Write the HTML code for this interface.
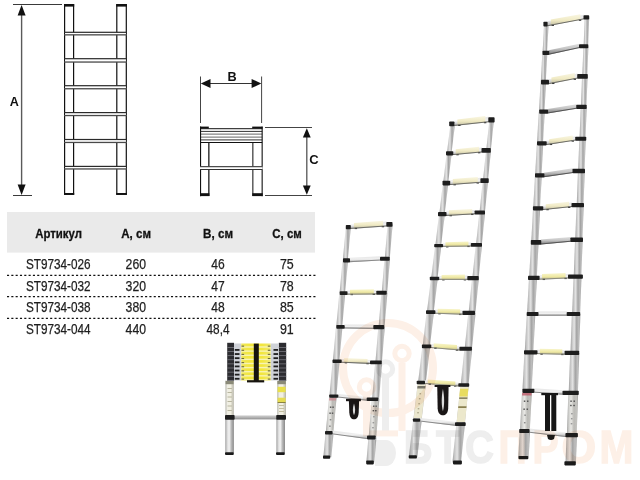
<!DOCTYPE html>
<html><head><meta charset="utf-8"><style>
html,body{margin:0;padding:0;background:#fff;width:640px;height:480px;overflow:hidden}
svg{display:block}
text{font-family:"Liberation Sans",sans-serif}
</style></head><body>
<svg width="640" height="480" viewBox="0 0 640 480">
<defs>
<linearGradient id="tube" x1="0" y1="0" x2="1" y2="0">
<stop offset="0" stop-color="#9c9c9c"/><stop offset="0.16" stop-color="#c4c4c4"/>
<stop offset="0.38" stop-color="#e4e4e4"/><stop offset="0.62" stop-color="#a4a4a4"/>
<stop offset="0.85" stop-color="#c0c0c0"/><stop offset="1" stop-color="#9a9a9a"/>
</linearGradient>
<linearGradient id="rsil" x1="0" y1="0" x2="0" y2="1">
<stop offset="0" stop-color="#dedede"/><stop offset="0.45" stop-color="#c4c4c4"/><stop offset="1" stop-color="#777"/>
</linearGradient>
<linearGradient id="rcream" x1="0" y1="0" x2="0" y2="1">
<stop offset="0" stop-color="#f9f6e2"/><stop offset="0.55" stop-color="#f0eac4"/><stop offset="1" stop-color="#c4c0a4"/>
</linearGradient>
<linearGradient id="ryel" x1="0" y1="0" x2="0" y2="1">
<stop offset="0" stop-color="#f8f5cc"/><stop offset="0.55" stop-color="#efe9a4"/><stop offset="1" stop-color="#c2bd8c"/>
</linearGradient>
<linearGradient id="fyel" x1="0" y1="0" x2="1" y2="0">
<stop offset="0" stop-color="#efe65a"/><stop offset="0.3" stop-color="#f2e63c"/><stop offset="0.7" stop-color="#f2e63c"/><stop offset="1" stop-color="#efe870"/>
</linearGradient>
<linearGradient id="leg" x1="0" y1="0" x2="1" y2="0">
<stop offset="0" stop-color="#9a9a9a"/><stop offset="0.2" stop-color="#d8d8d8"/>
<stop offset="0.45" stop-color="#f4f4f4"/><stop offset="0.7" stop-color="#b8b8b8"/><stop offset="1" stop-color="#8a8a8a"/>
</linearGradient>
<linearGradient id="lab" x1="0" y1="0" x2="1" y2="0">
<stop offset="0" stop-color="#b8b8b0"/><stop offset="0.25" stop-color="#efeee4"/>
<stop offset="0.6" stop-color="#f2f0e2"/><stop offset="1" stop-color="#b4b2a6"/>
</linearGradient>
<linearGradient id="fsil" x1="0" y1="0" x2="0" y2="1">
<stop offset="0" stop-color="#d0d0d0"/><stop offset="0.5" stop-color="#b4b4b4"/><stop offset="1" stop-color="#8e8e8e"/>
</linearGradient>
<linearGradient id="rwh" x1="0" y1="0" x2="0" y2="1">
<stop offset="0" stop-color="#e6e6e6"/><stop offset="0.5" stop-color="#f0f0f0"/><stop offset="1" stop-color="#a8a8a8"/>
</linearGradient>
</defs>
<polygon points="345.83,227.1 350.83,227.1 347.79,260.4 342.79,260.4" fill="url(#tube)"/>
<polygon points="387.62,224.35 392.62,224.35 389.76,258.75 384.76,258.75" fill="url(#tube)"/>
<polygon points="342.54,260.4 348.04,260.4 345.05,293.15 339.55,293.15" fill="url(#tube)"/>
<polygon points="384.51,258.75 390.01,258.75 387.18,292.75 381.68,292.75" fill="url(#tube)"/>
<polygon points="339.3,293.15 345.3,293.15 342.23,326.85 336.23,326.85" fill="url(#tube)"/>
<polygon points="381.43,292.75 387.43,292.75 384.58,327.1 378.58,327.1" fill="url(#tube)"/>
<polygon points="335.98,326.85 342.48,326.85 339.33,361.3 332.83,361.3" fill="url(#tube)"/>
<polygon points="378.33,327.1 384.83,327.1 381.89,362.4 375.39,362.4" fill="url(#tube)"/>
<polygon points="332.58,361.3 339.58,361.3 336.4,396.15 329.4,396.15" fill="url(#tube)"/>
<polygon points="375.14,362.4 382.14,362.4 379.08,399.3 372.08,399.3" fill="url(#tube)"/>
<polygon points="329.1,396.15 336.7,396.15 333.35,432.8 325.75,432.8" fill="url(#tube)"/>
<polygon points="371.78,399.3 379.38,399.3 376.21,437.4 368.61,437.4" fill="url(#tube)"/>
<polygon points="325.55,432.8 333.55,432.8 331.33,457.2 323.33,457.2" fill="url(#tube)"/>
<polygon points="368.41,437.4 376.41,437.4 374.33,462.5 366.33,462.5" fill="url(#tube)"/>
<polygon points="329.03,398 336.43,398 333.42,431 326.02,431" fill="url(#lab)" opacity="0.3"/>
<polygon points="371.69,401.5 379.09,401.5 376.27,435.5 368.87,435.5" fill="url(#lab)" opacity="0.3"/>
<polygon points="329.23,398 336.23,398 336,400.5 329,400.5" fill="#c98890" opacity="0.8"/>
<rect x="329.88" y="406.5" width="1.5" height="1.4" fill="#555"/>
<rect x="332.33" y="406.5" width="1.5" height="1.4" fill="#555"/>
<rect x="329.34" y="412.5" width="1.5" height="1.4" fill="#555"/>
<rect x="331.78" y="412.5" width="1.5" height="1.4" fill="#555"/>
<rect x="329.7" y="419" width="1.6" height="1.4" fill="#8a8a8a"/>
<rect x="329.11" y="425.5" width="1.6" height="1.4" fill="#8a8a8a"/>
<rect x="372.99" y="405.5" width="1.5" height="1.4" fill="#555"/>
<rect x="375.43" y="405.5" width="1.5" height="1.4" fill="#555"/>
<rect x="372.62" y="410" width="1.5" height="1.4" fill="#555"/>
<rect x="375.06" y="410" width="1.5" height="1.4" fill="#555"/>
<rect x="373.08" y="416" width="1.6" height="1.4" fill="#999"/>
<rect x="372.58" y="422" width="1.6" height="1.4" fill="#999"/>
<rect x="372.17" y="427" width="1.6" height="1.4" fill="#999"/>
<polygon points="350.3,224.5 386.8,221.5 386.8,226.4 350.3,228.9" fill="url(#rwh)"/>
<polygon points="353.95,223.1 383.15,220.7 383.15,226.35 353.95,228.35" fill="url(#rcream)"/>
<rect x="354.68" y="227.8" width="2.4" height="1.3" fill="#2a2a2a"/>
<rect x="381.69" y="225.95" width="2.4" height="1.3" fill="#2a2a2a"/>
<line x1="350.3" y1="228.4" x2="386.8" y2="225.9" stroke="#6e6e68" stroke-width="1"/>
<rect x="345.8" y="225" width="5" height="4.2" rx="0.8" fill="#1e1e1e"/>
<rect x="386.3" y="222" width="6.2" height="4.7" rx="0.8" fill="#1e1e1e"/>
<polygon points="349.5,257.8 380.5,256.2 380.5,260.5 349.5,262.2" fill="url(#rwh)"/>
<line x1="349.5" y1="261.7" x2="380.5" y2="260" stroke="#8a8a8a" stroke-width="1"/>
<rect x="343" y="258.3" width="7" height="4.2" rx="0.8" fill="#1e1e1e"/>
<rect x="380" y="256.7" width="9.7" height="4.1" rx="0.8" fill="#1e1e1e"/>
<polygon points="347,290.8 376.8,290.3 376.8,294.4 347,294.7" fill="url(#rwh)"/>
<polygon points="349.98,289.65 373.82,289.25 373.82,294.13 349.98,294.37" fill="url(#ryel)"/>
<rect x="350.58" y="293.86" width="2.4" height="1.3" fill="#2a2a2a"/>
<rect x="372.63" y="293.64" width="2.4" height="1.3" fill="#2a2a2a"/>
<line x1="347" y1="294.2" x2="376.8" y2="293.9" stroke="#8e8e80" stroke-width="1"/>
<rect x="339.7" y="291.3" width="7.8" height="3.7" rx="0.8" fill="#1e1e1e"/>
<rect x="376.3" y="290.8" width="10.4" height="3.9" rx="0.8" fill="#1e1e1e"/>
<polygon points="344.2,324.5 373.8,324.5 373.8,328.9 344.2,328.4" fill="url(#rwh)"/>
<line x1="344.2" y1="327.9" x2="373.8" y2="328.4" stroke="#8a8a8a" stroke-width="1"/>
<rect x="336.3" y="325" width="8.4" height="3.7" rx="0.8" fill="#1e1e1e"/>
<rect x="373.3" y="325" width="10.9" height="4.2" rx="0.8" fill="#1e1e1e"/>
<polygon points="341.2,359.1 370.5,360.1 370.5,363.9 341.2,362.7" fill="url(#rwh)"/>
<polygon points="344.13,358.1 367.57,358.9 367.57,363.48 344.13,362.52" fill="url(#rcream)"/>
<rect x="344.72" y="362.04" width="2.4" height="1.3" fill="#2a2a2a"/>
<rect x="366.4" y="362.93" width="2.4" height="1.3" fill="#2a2a2a"/>
<line x1="341.2" y1="362.2" x2="370.5" y2="363.4" stroke="#6e6e68" stroke-width="1"/>
<rect x="332.5" y="359.6" width="9.2" height="3.4" rx="0.8" fill="#1e1e1e"/>
<rect x="370" y="360.6" width="11.7" height="3.6" rx="0.8" fill="#1e1e1e"/>
<polygon points="337.8,394 367.2,397.1 367.2,400.7 337.8,397.5" fill="url(#rwh)"/>
<line x1="337.8" y1="397" x2="367.2" y2="400.2" stroke="#8a8a8a" stroke-width="1"/>
<rect x="329.2" y="394.5" width="9.1" height="3.3" rx="0.8" fill="#1e1e1e"/>
<rect x="366.7" y="397.6" width="11.6" height="3.4" rx="0.8" fill="#1e1e1e"/>
<polygon points="332.1,430.5 367.5,434.9 367.5,439.1 332.1,434.3" fill="url(#rwh)"/>
<line x1="332.1" y1="433.8" x2="367.5" y2="438.6" stroke="#8a8a8a" stroke-width="1"/>
<rect x="325" y="431" width="7.6" height="3.6" rx="0.8" fill="#1e1e1e"/>
<rect x="367" y="435.4" width="8.6" height="4" rx="0.8" fill="#1e1e1e"/>
<rect x="323" y="455.6" width="7.2" height="3.2" rx="0.8" fill="#1a1a1a"/>
<rect x="366.2" y="460.6" width="7.6" height="3.8" rx="0.8" fill="#1a1a1a"/>
<path d="M348.9 401 L349.3 412.2 C349.7 417.7 351.5 419.2 354 419.2 C356.5 419.2 358.3 417.7 358.7 412.2 L359.1 401 Z" fill="#1a1616"/>
<path d="M354 403.5 C352.5 407.59 352.5 412.27 354 415.2 C355.5 412.27 355.5 407.59 354 403.5 Z" fill="#fff" opacity="0.85"/>
<rect x="346" y="398.8" width="14.9" height="2.4" fill="#1a1616"/>
<polygon points="450.42,123.88 455.02,123.88 451.51,153.32 446.91,153.32" fill="url(#tube)"/>
<polygon points="489.35,119.9 493.95,119.9 490.84,150.35 486.24,150.35" fill="url(#tube)"/>
<polygon points="446.71,153.32 451.71,153.32 448.17,183.1 443.17,183.1" fill="url(#tube)"/>
<polygon points="486.04,150.35 491.04,150.35 487.95,180.65 482.95,180.65" fill="url(#tube)"/>
<polygon points="442.97,183.1 448.37,183.1 444.68,214.12 439.28,214.12" fill="url(#tube)"/>
<polygon points="482.75,180.65 488.15,180.65 484.91,212.5 479.51,212.5" fill="url(#tube)"/>
<polygon points="439.08,214.12 444.88,214.12 441.13,245.62 435.33,245.62" fill="url(#tube)"/>
<polygon points="479.31,212.5 485.11,212.5 481.8,244.9 476,244.9" fill="url(#tube)"/>
<polygon points="435.08,245.62 441.38,245.62 437.47,278.45 431.17,278.45" fill="url(#tube)"/>
<polygon points="475.75,244.9 482.05,244.9 478.66,278.1 472.36,278.1" fill="url(#tube)"/>
<polygon points="430.92,278.45 437.72,278.45 433.72,312.1 426.92,312.1" fill="url(#tube)"/>
<polygon points="472.11,278.1 478.91,278.1 475.36,312.9 468.56,312.9" fill="url(#tube)"/>
<polygon points="426.67,312.1 433.97,312.1 429.88,346.45 422.58,346.45" fill="url(#tube)"/>
<polygon points="468.31,312.9 475.61,312.9 471.96,348.75 464.66,348.75" fill="url(#tube)"/>
<polygon points="422.33,346.45 430.13,346.45 425.84,382.5 418.04,382.5" fill="url(#tube)"/>
<polygon points="464.41,348.75 472.21,348.75 468.51,385 460.71,385" fill="url(#tube)"/>
<polygon points="417.84,382.5 426.04,382.5 421.57,420.1 413.37,420.1" fill="url(#tube)"/>
<polygon points="460.51,385 468.71,385 464.72,424.15 456.52,424.15" fill="url(#tube)"/>
<polygon points="413.17,420.1 421.77,420.1 417.39,456.88 408.79,456.88" fill="url(#tube)"/>
<polygon points="456.32,424.15 464.92,424.15 461.01,462.5 452.41,462.5" fill="url(#tube)"/>
<polygon points="417.7,384.5 425.7,384.5 421.72,418 413.72,418" fill="#ebe7cf"/>
<polygon points="460.21,387 468.61,387 465.04,422 456.64,422" fill="#ece8cc"/>
<polygon points="460.12,388.8 468.32,388.8 467.53,396.6 459.33,396.6" fill="#e8dc60"/>
<polygon points="459.24,397.5 467.44,397.5 467.3,398.8 459.1,398.8" fill="#6a6440"/>
<polygon points="458.34,406.3 466.54,406.3 466.36,408 458.16,408" fill="#8a8050"/>
<polygon points="417.53,386 425.53,386 425.23,388.5 417.23,388.5" fill="#77756a"/>
<rect x="419.49" y="393" width="1.6" height="1.4" fill="#b0ab90"/>
<rect x="418.9" y="398" width="1.6" height="1.4" fill="#b0ab90"/>
<rect x="418.3" y="403" width="1.6" height="1.4" fill="#b0ab90"/>
<rect x="417.71" y="408" width="1.6" height="1.4" fill="#b0ab90"/>
<rect x="417.23" y="412" width="1.6" height="1.4" fill="#b0ab90"/>
<polygon points="453.9,121 488.8,116.8 488.8,122.2 453.9,125.95" fill="url(#rwh)"/>
<polygon points="457.39,119.48 485.31,116.12 485.31,122.28 457.39,125.28" fill="url(#rcream)"/>
<rect x="458.09" y="124.7" width="2.4" height="1.3" fill="#2a2a2a"/>
<rect x="483.91" y="121.93" width="2.4" height="1.3" fill="#2a2a2a"/>
<line x1="453.9" y1="125.45" x2="488.8" y2="121.7" stroke="#6e6e68" stroke-width="1"/>
<rect x="449.2" y="121.5" width="5.2" height="4.75" rx="0.8" fill="#1e1e1e"/>
<rect x="488.3" y="117.3" width="6.3" height="5.2" rx="0.8" fill="#1e1e1e"/>
<polygon points="452.8,150.75 482,147.5 482,152.4 452.8,155.1" fill="url(#rwh)"/>
<polygon points="455.72,149.33 479.08,146.72 479.08,152.37 455.72,154.53" fill="url(#rcream)"/>
<rect x="456.3" y="153.98" width="2.4" height="1.3" fill="#2a2a2a"/>
<rect x="477.91" y="151.98" width="2.4" height="1.3" fill="#2a2a2a"/>
<line x1="452.8" y1="154.6" x2="482" y2="151.9" stroke="#6e6e68" stroke-width="1"/>
<rect x="446" y="151.25" width="7.3" height="4.15" rx="0.8" fill="#1e1e1e"/>
<rect x="481.5" y="148" width="9.3" height="4.7" rx="0.8" fill="#1e1e1e"/>
<polygon points="449.7,180.3 480.9,177.8 480.9,182.7 449.7,185.1" fill="url(#rwh)"/>
<polygon points="452.82,178.95 477.78,176.95 477.78,182.64 452.82,184.56" fill="url(#rcream)"/>
<rect x="453.44" y="184.01" width="2.4" height="1.3" fill="#2a2a2a"/>
<rect x="476.53" y="182.24" width="2.4" height="1.3" fill="#2a2a2a"/>
<line x1="449.7" y1="184.6" x2="480.9" y2="182.2" stroke="#6e6e68" stroke-width="1"/>
<rect x="442.5" y="180.8" width="7.7" height="4.6" rx="0.8" fill="#1e1e1e"/>
<rect x="480.4" y="178.3" width="8.35" height="4.7" rx="0.8" fill="#1e1e1e"/>
<polygon points="446,211.5 475.1,209.9 475.1,214.3 446,215.95" fill="url(#rwh)"/>
<polygon points="448.91,210.24 472.19,208.96 472.19,214.16 448.91,215.49" fill="url(#rcream)"/>
<rect x="449.49" y="214.95" width="2.4" height="1.3" fill="#2a2a2a"/>
<rect x="471.03" y="213.73" width="2.4" height="1.3" fill="#2a2a2a"/>
<line x1="446" y1="215.45" x2="475.1" y2="213.8" stroke="#6e6e68" stroke-width="1"/>
<rect x="438" y="212" width="8.5" height="4.25" rx="0.8" fill="#1e1e1e"/>
<rect x="474.6" y="210.4" width="10.4" height="4.2" rx="0.8" fill="#1e1e1e"/>
<polygon points="442.6,243.5 471.3,242.5 471.3,246.5 442.6,246.95" fill="url(#rwh)"/>
<polygon points="445.47,242.3 468.43,241.5 468.43,246.25 445.47,246.61" fill="url(#ryel)"/>
<rect x="446.04" y="246.1" width="2.4" height="1.3" fill="#2a2a2a"/>
<rect x="467.28" y="245.76" width="2.4" height="1.3" fill="#2a2a2a"/>
<line x1="442.6" y1="246.45" x2="471.3" y2="246" stroke="#8e8e80" stroke-width="1"/>
<rect x="434.2" y="244" width="8.9" height="3.25" rx="0.8" fill="#1e1e1e"/>
<rect x="470.8" y="243" width="11.2" height="3.8" rx="0.8" fill="#1e1e1e"/>
<polygon points="438.7,276.2 467.8,275.5 467.8,279.9 438.7,279.9" fill="url(#rwh)"/>
<polygon points="441.61,275.03 464.89,274.47 464.89,279.6 441.61,279.6" fill="url(#ryel)"/>
<rect x="442.19" y="279.1" width="2.4" height="1.3" fill="#2a2a2a"/>
<rect x="463.73" y="279.1" width="2.4" height="1.3" fill="#2a2a2a"/>
<line x1="438.7" y1="279.4" x2="467.8" y2="279.4" stroke="#8e8e80" stroke-width="1"/>
<rect x="429.8" y="276.7" width="9.4" height="3.5" rx="0.8" fill="#1e1e1e"/>
<rect x="467.3" y="276" width="11.45" height="4.2" rx="0.8" fill="#1e1e1e"/>
<polygon points="434.9,309.7 463,310.3 463,314.7 434.9,313.7" fill="url(#rwh)"/>
<polygon points="437.71,308.66 460.19,309.14 460.19,314.3 437.71,313.5" fill="url(#ryel)"/>
<rect x="438.27" y="313.02" width="2.4" height="1.3" fill="#2a2a2a"/>
<rect x="459.07" y="313.76" width="2.4" height="1.3" fill="#2a2a2a"/>
<line x1="434.9" y1="313.2" x2="463" y2="314.2" stroke="#8e8e80" stroke-width="1"/>
<rect x="426" y="310.2" width="9.4" height="3.8" rx="0.8" fill="#1e1e1e"/>
<rect x="462.5" y="310.8" width="12.5" height="4.2" rx="0.8" fill="#1e1e1e"/>
<polygon points="430.75,344.1 459.9,346.2 459.9,350.5 430.75,348" fill="url(#rwh)"/>
<polygon points="433.67,343.21 456.98,344.89 456.98,349.95 433.67,347.95" fill="url(#ryel)"/>
<rect x="434.25" y="347.5" width="2.4" height="1.3" fill="#2a2a2a"/>
<rect x="455.82" y="349.35" width="2.4" height="1.3" fill="#2a2a2a"/>
<line x1="430.75" y1="347.5" x2="459.9" y2="350" stroke="#8e8e80" stroke-width="1"/>
<rect x="421.9" y="344.6" width="9.35" height="3.7" rx="0.8" fill="#1e1e1e"/>
<rect x="459.4" y="346.7" width="12.5" height="4.1" rx="0.8" fill="#1e1e1e"/>
<polygon points="424.5,380.3 458.8,382.8 458.8,386.4 424.5,383.9" fill="url(#rwh)"/>
<polygon points="427.93,379.45 455.37,381.45 455.37,385.85 427.93,383.85" fill="url(#ryel)"/>
<rect x="428.62" y="383.4" width="2.4" height="1.3" fill="#2a2a2a"/>
<rect x="454" y="385.25" width="2.4" height="1.3" fill="#2a2a2a"/>
<line x1="424.5" y1="383.4" x2="458.8" y2="385.9" stroke="#8e8e80" stroke-width="1"/>
<rect x="416.7" y="380.8" width="8.3" height="3.4" rx="0.8" fill="#1e1e1e"/>
<rect x="458.3" y="383.3" width="10.9" height="3.4" rx="0.8" fill="#1e1e1e"/>
<polygon points="419.7,417.9 455.5,421.7 455.5,425.8 419.7,421.5" fill="url(#rwh)"/>
<line x1="419.7" y1="421" x2="455.5" y2="425.3" stroke="#8a8a8a" stroke-width="1"/>
<rect x="412.9" y="418.4" width="7.3" height="3.4" rx="0.8" fill="#1e1e1e"/>
<rect x="455" y="422.2" width="10.7" height="3.9" rx="0.8" fill="#1e1e1e"/>
<rect x="408.75" y="455.25" width="8.15" height="3.25" rx="0.8" fill="#1a1a1a"/>
<rect x="453" y="460.6" width="8.9" height="3.8" rx="0.8" fill="#1a1a1a"/>
<path d="M437.25 386.5 L437.65 408.2 C438.05 413.7 440.43 415.2 442.93 415.2 C445.43 415.2 447.8 413.7 448.2 408.2 L448.6 386.5 Z" fill="#1a1616"/>
<path d="M442.93 389 C441.32 396.77 441.32 405.65 442.93 411.2 C444.53 405.65 444.53 396.77 442.93 389 Z" fill="#fff" opacity="0.85"/>
<rect x="434.6" y="385" width="15.8" height="2" fill="#1a1616"/>
<polygon points="544.07,24.2 548.57,24.2 547.06,52.9 542.56,52.9" fill="url(#tube)"/>
<polygon points="584.69,17.4 589.19,17.4 588.14,46.25 583.64,46.25" fill="url(#tube)"/>
<polygon points="542.31,52.9 547.31,52.9 545.77,82.15 540.77,82.15" fill="url(#tube)"/>
<polygon points="583.39,46.25 588.39,46.25 587.29,76.4 582.29,76.4" fill="url(#tube)"/>
<polygon points="540.52,82.15 546.02,82.15 544.46,111.67 538.96,111.67" fill="url(#tube)"/>
<polygon points="582.04,76.4 587.54,76.4 586.43,106.9 580.93,106.9" fill="url(#tube)"/>
<polygon points="538.71,111.67 544.71,111.67 543.04,143.32 537.04,143.32" fill="url(#tube)"/>
<polygon points="580.68,106.9 586.68,106.9 585.52,138.75 579.52,138.75" fill="url(#tube)"/>
<polygon points="536.84,143.32 543.24,143.32 541.55,175.4 535.15,175.4" fill="url(#tube)"/>
<polygon points="579.32,138.75 585.72,138.75 584.55,171.03 578.15,171.03" fill="url(#tube)"/>
<polygon points="534.95,175.4 541.75,175.4 540.02,208.32 533.22,208.32" fill="url(#tube)"/>
<polygon points="577.95,171.03 584.75,171.03 583.51,205.15 576.71,205.15" fill="url(#tube)"/>
<polygon points="533.02,208.32 540.22,208.32 538.42,242.4 531.22,242.4" fill="url(#tube)"/>
<polygon points="576.51,205.15 583.71,205.15 582.45,239.75 575.25,239.75" fill="url(#tube)"/>
<polygon points="531.02,242.4 538.62,242.4 536.75,277.9 529.15,277.9" fill="url(#tube)"/>
<polygon points="575.05,239.75 582.65,239.75 581.3,276.65 573.7,276.65" fill="url(#tube)"/>
<polygon points="528.95,277.9 536.95,277.9 535.05,313.95 527.05,313.95" fill="url(#tube)"/>
<polygon points="573.5,276.65 581.5,276.65 580.15,313.95 572.15,313.95" fill="url(#tube)"/>
<polygon points="526.75,313.95 535.35,313.95 533.33,352.3 524.73,352.3" fill="url(#tube)"/>
<polygon points="571.85,313.95 580.45,313.95 579.03,352.9 570.43,352.9" fill="url(#tube)"/>
<polygon points="524.43,352.3 533.63,352.3 531.6,390.82 522.4,390.82" fill="url(#tube)"/>
<polygon points="570.13,352.9 579.33,352.9 577.87,392.9 568.67,392.9" fill="url(#tube)"/>
<polygon points="522.1,390.82 531.9,390.82 529.78,431 519.98,431" fill="url(#tube)"/>
<polygon points="568.37,392.9 578.17,392.9 576.63,435.15 566.83,435.15" fill="url(#tube)"/>
<polygon points="519.68,431 530.08,431 528.68,457.6 518.28,457.6" fill="url(#tube)"/>
<polygon points="566.53,435.15 576.93,435.15 575.91,463.32 565.51,463.32" fill="url(#tube)"/>
<polygon points="522.11,392.5 531.71,392.5 529.79,429 520.19,429" fill="url(#lab)" opacity="0.3"/>
<polygon points="568.4,395 578,395 576.61,433 567.01,433" fill="url(#lab)" opacity="0.3"/>
<polygon points="522.19,392.8 531.59,392.8 531.46,395.4 522.06,395.4" fill="#c0606e" opacity="0.85"/>
<rect x="523.8" y="400.5" width="1.5" height="1.4" fill="#505050"/>
<rect x="526.97" y="400.5" width="1.5" height="1.4" fill="#505050"/>
<rect x="523.38" y="408.5" width="1.5" height="1.4" fill="#505050"/>
<rect x="526.55" y="408.5" width="1.5" height="1.4" fill="#505050"/>
<rect x="524.31" y="414.5" width="1.6" height="1.4" fill="#8a8a8a"/>
<rect x="523.92" y="422" width="1.6" height="1.4" fill="#8a8a8a"/>
<rect x="570.31" y="400.5" width="1.5" height="1.4" fill="#505050"/>
<rect x="573.48" y="400.5" width="1.5" height="1.4" fill="#505050"/>
<rect x="570.15" y="404.8" width="1.5" height="1.4" fill="#505050"/>
<rect x="573.32" y="404.8" width="1.5" height="1.4" fill="#505050"/>
<rect x="571.1" y="413" width="1.6" height="1.4" fill="#9a9a9a"/>
<rect x="570.92" y="418" width="1.6" height="1.4" fill="#9a9a9a"/>
<rect x="570.74" y="423" width="1.6" height="1.4" fill="#9a9a9a"/>
<polygon points="547.1,21.3 584,14.7 584,19.3 547.1,26.3" fill="url(#rwh)"/>
<polygon points="550.79,19.54 580.31,14.26 580.31,19.7 550.79,25.3" fill="url(#rcream)"/>
<rect x="551.53" y="24.66" width="2.4" height="1.3" fill="#2a2a2a"/>
<rect x="578.83" y="19.48" width="2.4" height="1.3" fill="#2a2a2a"/>
<line x1="547.1" y1="25.8" x2="584" y2="18.8" stroke="#6e6e68" stroke-width="1"/>
<rect x="543.4" y="21.8" width="4.2" height="4.8" rx="0.8" fill="#1e1e1e"/>
<rect x="583.5" y="15.2" width="5.7" height="4.4" rx="0.8" fill="#1e1e1e"/>
<polygon points="548.7,50.3 579.5,43.7 579.5,48 548.7,54.7" fill="url(#rsil)"/>
<line x1="548.7" y1="54.2" x2="579.5" y2="47.5" stroke="#555" stroke-width="1"/>
<rect x="542.5" y="50.8" width="6.7" height="4.2" rx="0.8" fill="#1e1e1e"/>
<rect x="579" y="44.2" width="9.3" height="4.1" rx="0.8" fill="#1e1e1e"/>
<polygon points="548.5,79.3 577.7,73.5 577.7,78.5 548.5,84.2" fill="url(#rwh)"/>
<polygon points="551.42,77.62 574.78,72.98 574.78,78.77 551.42,83.33" fill="url(#rcream)"/>
<rect x="552" y="82.72" width="2.4" height="1.3" fill="#2a2a2a"/>
<rect x="573.61" y="78.5" width="2.4" height="1.3" fill="#2a2a2a"/>
<line x1="548.5" y1="83.7" x2="577.7" y2="78" stroke="#6e6e68" stroke-width="1"/>
<rect x="541" y="79.8" width="8" height="4.7" rx="0.8" fill="#1e1e1e"/>
<rect x="577.2" y="74" width="10.6" height="4.8" rx="0.8" fill="#1e1e1e"/>
<polygon points="547.6,109.1 576.75,104.3 576.75,108.7 547.6,113.45" fill="url(#rsil)"/>
<line x1="547.6" y1="112.95" x2="576.75" y2="108.2" stroke="#555" stroke-width="1"/>
<rect x="539.2" y="109.6" width="8.9" height="4.15" rx="0.8" fill="#1e1e1e"/>
<rect x="576.25" y="104.8" width="10.45" height="4.2" rx="0.8" fill="#1e1e1e"/>
<polygon points="546.2,140.75 575.7,136.2 575.7,140.5 546.2,145.1" fill="url(#rwh)"/>
<polygon points="549.15,139.19 572.75,135.56 572.75,140.66 549.15,144.34" fill="url(#rcream)"/>
<rect x="549.74" y="143.75" width="2.4" height="1.3" fill="#2a2a2a"/>
<rect x="571.57" y="140.34" width="2.4" height="1.3" fill="#2a2a2a"/>
<line x1="546.2" y1="144.6" x2="575.7" y2="140" stroke="#6e6e68" stroke-width="1"/>
<rect x="537" y="141.25" width="9.7" height="4.15" rx="0.8" fill="#1e1e1e"/>
<rect x="575.2" y="136.7" width="11.05" height="4.1" rx="0.8" fill="#1e1e1e"/>
<polygon points="543.9,172.8 573,168.25 573,173 543.9,177.2" fill="url(#rsil)"/>
<line x1="543.9" y1="176.7" x2="573" y2="172.5" stroke="#555" stroke-width="1"/>
<rect x="535" y="173.3" width="9.4" height="4.2" rx="0.8" fill="#1e1e1e"/>
<rect x="572.5" y="168.75" width="12.5" height="4.55" rx="0.8" fill="#1e1e1e"/>
<polygon points="542.8,205.75 572,202.5 572,207 542.8,210.1" fill="url(#rwh)"/>
<polygon points="545.72,204.33 569.08,201.72 569.08,207.01 545.72,209.49" fill="url(#rcream)"/>
<rect x="546.3" y="208.93" width="2.4" height="1.3" fill="#2a2a2a"/>
<rect x="567.91" y="206.63" width="2.4" height="1.3" fill="#2a2a2a"/>
<line x1="542.8" y1="209.6" x2="572" y2="206.5" stroke="#6e6e68" stroke-width="1"/>
<rect x="532.9" y="206.25" width="10.4" height="4.15" rx="0.8" fill="#1e1e1e"/>
<rect x="571.5" y="203" width="12.5" height="4.3" rx="0.8" fill="#1e1e1e"/>
<polygon points="540.75,239.5 570.9,237 570.9,241.7 540.75,244.5" fill="url(#rsil)"/>
<line x1="540.75" y1="244" x2="570.9" y2="241.2" stroke="#555" stroke-width="1"/>
<rect x="530.8" y="240" width="10.45" height="4.8" rx="0.8" fill="#1e1e1e"/>
<rect x="570.4" y="237.5" width="12.6" height="4.5" rx="0.8" fill="#1e1e1e"/>
<polygon points="539.1,275.3 568.5,274.1 568.5,278.4 539.1,279.7" fill="url(#rwh)"/>
<polygon points="542.04,274.08 565.56,273.12 565.56,278.23 542.04,279.27" fill="url(#ryel)"/>
<rect x="542.63" y="278.74" width="2.4" height="1.3" fill="#2a2a2a"/>
<rect x="564.38" y="277.78" width="2.4" height="1.3" fill="#2a2a2a"/>
<line x1="539.1" y1="279.2" x2="568.5" y2="277.9" stroke="#8e8e80" stroke-width="1"/>
<rect x="528" y="275.8" width="11.6" height="4.2" rx="0.8" fill="#1e1e1e"/>
<rect x="568" y="274.6" width="14.9" height="4.1" rx="0.8" fill="#1e1e1e"/>
<polygon points="538,311.4 567.2,311.4 567.2,315.7 538,315.7" fill="url(#rwh)"/>
<line x1="538" y1="315.2" x2="567.2" y2="315.2" stroke="#8a8a8a" stroke-width="1"/>
<rect x="526.7" y="311.9" width="11.8" height="4.1" rx="0.8" fill="#1e1e1e"/>
<rect x="566.7" y="311.9" width="13.5" height="4.1" rx="0.8" fill="#1e1e1e"/>
<polygon points="537,349.7 565.1,350.3 565.1,354.7 537,354.1" fill="url(#rwh)"/>
<polygon points="539.81,348.66 562.29,349.14 562.29,354.34 539.81,353.86" fill="url(#ryel)"/>
<rect x="540.37" y="353.37" width="2.4" height="1.3" fill="#2a2a2a"/>
<rect x="561.17" y="353.82" width="2.4" height="1.3" fill="#2a2a2a"/>
<line x1="537" y1="353.6" x2="565.1" y2="354.2" stroke="#8e8e80" stroke-width="1"/>
<rect x="524" y="350.2" width="13.5" height="4.2" rx="0.8" fill="#1e1e1e"/>
<rect x="564.6" y="350.8" width="14.6" height="4.2" rx="0.8" fill="#1e1e1e"/>
<polygon points="533.9,388.25 563,390.3 563,394.7 533.9,392.6" fill="url(#rwh)"/>
<line x1="533.9" y1="392.1" x2="563" y2="394.2" stroke="#8a8a8a" stroke-width="1"/>
<rect x="522.5" y="388.75" width="11.9" height="4.15" rx="0.8" fill="#1e1e1e"/>
<rect x="562.5" y="390.8" width="16.25" height="4.2" rx="0.8" fill="#1e1e1e"/>
<polygon points="529.1,428.5 565.9,432.5 565.9,437 529.1,432.7" fill="url(#rwh)"/>
<line x1="529.1" y1="432.2" x2="565.9" y2="436.5" stroke="#8a8a8a" stroke-width="1"/>
<rect x="519.2" y="429" width="10.4" height="4" rx="0.8" fill="#1e1e1e"/>
<rect x="565.4" y="433" width="12.5" height="4.3" rx="0.8" fill="#1e1e1e"/>
<rect x="518.5" y="456" width="9.8" height="3.2" rx="0.8" fill="#1a1a1a"/>
<rect x="564.4" y="461.25" width="11.4" height="4.15" rx="0.8" fill="#1a1a1a"/>
<rect x="545" y="395" width="5" height="36" fill="#161616"/>
<rect x="551.3" y="395" width="5" height="36" fill="#161616"/>
<rect x="541.3" y="393" width="16.7" height="2.2" fill="#161616"/>
<path d="M547 435 H555 L554 439 Q551 441 548 439 Z" fill="#1a1a1a"/>
<rect x="225.4" y="380.5" width="8.4" height="35" fill="url(#lab)"/>
<rect x="277.2" y="380.5" width="8.8" height="35" fill="url(#lab)"/>
<rect x="225.6" y="381" width="8" height="3.2" fill="#8a8a78"/>
<rect x="277.4" y="381" width="8.4" height="3.2" fill="#8a8a78"/>
<rect x="227.5" y="388" width="4.4" height="1" fill="#b8b6a0"/>
<rect x="227.5" y="392" width="4.4" height="1" fill="#b8b6a0"/>
<rect x="227.5" y="396.5" width="4.4" height="1" fill="#b8b6a0"/>
<rect x="227.5" y="401" width="4.4" height="1" fill="#b8b6a0"/>
<rect x="227.5" y="405.5" width="4.4" height="1" fill="#b8b6a0"/>
<rect x="227.5" y="410" width="4.4" height="1" fill="#b8b6a0"/>
<rect x="277.6" y="386.8" width="8" height="5.4" fill="#e9e04a"/>
<rect x="277.6" y="397.7" width="8" height="4.3" fill="#e6dc52"/>
<rect x="277.6" y="402" width="8" height="1" fill="#8a8240"/>
<rect x="279" y="405" width="5" height="1" fill="#c4bfa0"/>
<rect x="279" y="408" width="5" height="1" fill="#c4bfa0"/>
<rect x="279" y="411" width="5" height="1" fill="#c4bfa0"/>
<rect x="225.3" y="418" width="8.6" height="35" fill="url(#leg)"/>
<rect x="276.4" y="418" width="8.6" height="35" fill="url(#leg)"/>
<rect x="234" y="415.4" width="42.5" height="4" fill="url(#fsil)"/>
<rect x="225" y="415" width="9.6" height="4.8" rx="0.8" fill="#1e1e1e"/>
<rect x="276.2" y="415" width="9.8" height="4.8" rx="0.8" fill="#1e1e1e"/>
<rect x="225" y="452.2" width="8.8" height="2.9" rx="1" fill="#1a1a1a"/>
<rect x="276" y="452.2" width="8.8" height="2.9" rx="1" fill="#1a1a1a"/>
<rect x="227.2" y="342.8" width="6.8" height="38" fill="#2c2c30"/>
<rect x="278.8" y="342.8" width="7.4" height="38" fill="#2c2c30"/>
<rect x="234" y="343.5" width="7.3" height="37" fill="#cfd2d8"/>
<rect x="270.6" y="343.5" width="8.2" height="37" fill="#cfd2d8"/>
<rect x="241.3" y="343.5" width="29.3" height="37" fill="url(#fyel)"/>
<rect x="241.3" y="346.3" width="29.3" height="1.4" fill="#f7f3b4"/>
<rect x="241.5" y="345.6" width="2.6" height="1.1" fill="#6a6838"/>
<rect x="267.8" y="345.6" width="2.6" height="1.1" fill="#6a6838"/>
<rect x="227.2" y="347" width="6.8" height="0.8" fill="#77777e"/>
<rect x="278.8" y="347" width="7.4" height="0.8" fill="#77777e"/>
<rect x="241.3" y="350.42" width="29.3" height="1.4" fill="#f7f3b4"/>
<rect x="241.5" y="349.72" width="2.6" height="1.1" fill="#6a6838"/>
<rect x="267.8" y="349.72" width="2.6" height="1.1" fill="#6a6838"/>
<rect x="234.8" y="349.02" width="4.7" height="1.8" fill="#1e1e1e"/>
<rect x="273.5" y="349.02" width="4.6" height="1.8" fill="#1e1e1e"/>
<rect x="227.2" y="351.12" width="6.8" height="0.8" fill="#77777e"/>
<rect x="278.8" y="351.12" width="7.4" height="0.8" fill="#77777e"/>
<rect x="241.3" y="354.54" width="29.3" height="1.4" fill="#f7f3b4"/>
<rect x="241.5" y="353.84" width="2.6" height="1.1" fill="#6a6838"/>
<rect x="267.8" y="353.84" width="2.6" height="1.1" fill="#6a6838"/>
<rect x="234.8" y="353.14" width="4.7" height="1.8" fill="#1e1e1e"/>
<rect x="273.5" y="353.14" width="4.6" height="1.8" fill="#1e1e1e"/>
<rect x="227.2" y="355.24" width="6.8" height="0.8" fill="#77777e"/>
<rect x="278.8" y="355.24" width="7.4" height="0.8" fill="#77777e"/>
<rect x="241.3" y="358.66" width="29.3" height="1.4" fill="#f7f3b4"/>
<rect x="241.5" y="357.96" width="2.6" height="1.1" fill="#6a6838"/>
<rect x="267.8" y="357.96" width="2.6" height="1.1" fill="#6a6838"/>
<rect x="234.8" y="357.26" width="4.7" height="1.8" fill="#1e1e1e"/>
<rect x="273.5" y="357.26" width="4.6" height="1.8" fill="#1e1e1e"/>
<rect x="227.2" y="359.36" width="6.8" height="0.8" fill="#77777e"/>
<rect x="278.8" y="359.36" width="7.4" height="0.8" fill="#77777e"/>
<rect x="241.3" y="362.78" width="29.3" height="1.4" fill="#f7f3b4"/>
<rect x="241.5" y="362.08" width="2.6" height="1.1" fill="#6a6838"/>
<rect x="267.8" y="362.08" width="2.6" height="1.1" fill="#6a6838"/>
<rect x="234.8" y="361.38" width="4.7" height="1.8" fill="#1e1e1e"/>
<rect x="273.5" y="361.38" width="4.6" height="1.8" fill="#1e1e1e"/>
<rect x="227.2" y="363.48" width="6.8" height="0.8" fill="#77777e"/>
<rect x="278.8" y="363.48" width="7.4" height="0.8" fill="#77777e"/>
<rect x="241.3" y="366.9" width="29.3" height="1.4" fill="#f7f3b4"/>
<rect x="241.5" y="366.2" width="2.6" height="1.1" fill="#6a6838"/>
<rect x="267.8" y="366.2" width="2.6" height="1.1" fill="#6a6838"/>
<rect x="234.8" y="365.5" width="4.7" height="1.8" fill="#1e1e1e"/>
<rect x="273.5" y="365.5" width="4.6" height="1.8" fill="#1e1e1e"/>
<rect x="227.2" y="367.6" width="6.8" height="0.8" fill="#77777e"/>
<rect x="278.8" y="367.6" width="7.4" height="0.8" fill="#77777e"/>
<rect x="241.3" y="371.02" width="29.3" height="1.4" fill="#f7f3b4"/>
<rect x="241.5" y="370.32" width="2.6" height="1.1" fill="#6a6838"/>
<rect x="267.8" y="370.32" width="2.6" height="1.1" fill="#6a6838"/>
<rect x="234.8" y="369.62" width="4.7" height="1.8" fill="#1e1e1e"/>
<rect x="273.5" y="369.62" width="4.6" height="1.8" fill="#1e1e1e"/>
<rect x="227.2" y="371.72" width="6.8" height="0.8" fill="#77777e"/>
<rect x="278.8" y="371.72" width="7.4" height="0.8" fill="#77777e"/>
<rect x="241.3" y="375.14" width="29.3" height="1.4" fill="#f7f3b4"/>
<rect x="241.5" y="374.44" width="2.6" height="1.1" fill="#6a6838"/>
<rect x="267.8" y="374.44" width="2.6" height="1.1" fill="#6a6838"/>
<rect x="234.8" y="373.74" width="4.7" height="1.8" fill="#1e1e1e"/>
<rect x="273.5" y="373.74" width="4.6" height="1.8" fill="#1e1e1e"/>
<rect x="227.2" y="375.84" width="6.8" height="0.8" fill="#77777e"/>
<rect x="278.8" y="375.84" width="7.4" height="0.8" fill="#77777e"/>
<rect x="241.3" y="379.26" width="29.3" height="1.4" fill="#f7f3b4"/>
<rect x="241.5" y="378.56" width="2.6" height="1.1" fill="#6a6838"/>
<rect x="267.8" y="378.56" width="2.6" height="1.1" fill="#6a6838"/>
<rect x="234.8" y="377.86" width="4.7" height="1.8" fill="#1e1e1e"/>
<rect x="273.5" y="377.86" width="4.6" height="1.8" fill="#1e1e1e"/>
<rect x="227.2" y="379.96" width="6.8" height="0.8" fill="#77777e"/>
<rect x="278.8" y="379.96" width="7.4" height="0.8" fill="#77777e"/>
<rect x="253.8" y="343.6" width="5" height="37.5" fill="#17140f"/>
<rect x="247" y="380.2" width="17.2" height="2.2" fill="#17140f"/>
<g style="mix-blend-mode:multiply">
<circle cx="388" cy="368" r="45" fill="none" stroke="#fdf0e7" stroke-width="8"/>
<circle cx="366.5" cy="387" r="7.2" fill="none" stroke="#fdf0e7" stroke-width="5"/>
<rect x="363" y="396" width="7" height="35" fill="#fdf0e7"/>
<circle cx="385.5" cy="369" r="7.2" fill="none" stroke="#eeeeee" stroke-width="5"/>
<rect x="382" y="378" width="7" height="53" fill="#eeeeee"/>
<circle cx="402" cy="353.5" r="7.2" fill="none" stroke="#fdf0e7" stroke-width="5"/>
<rect x="398.5" y="362.5" width="7" height="68.5" fill="#fdf0e7"/>
<rect x="363" y="430.4" width="35" height="6" fill="#fdf0e7"/>
<path d="M375 440 H386 A10 13 0 0 1 386 466 H375 Z" fill="#eeeeee"/>
<text x="403.7" y="463" font-size="45.5" font-weight="bold" fill="#eeeeee" stroke="#eeeeee" stroke-width="1.4" textLength="28.5" lengthAdjust="spacingAndGlyphs">Б</text>
<text x="435.9" y="463" font-size="45.5" font-weight="bold" fill="#eeeeee" stroke="#eeeeee" stroke-width="1.4" textLength="23.4" lengthAdjust="spacingAndGlyphs">Т</text>
<text x="465.1" y="463" font-size="45.5" font-weight="bold" fill="#eeeeee" stroke="#eeeeee" stroke-width="1.4" textLength="28.9" lengthAdjust="spacingAndGlyphs">С</text>
<text x="498.5" y="463" font-size="45.5" font-weight="bold" fill="#fdf0e7" stroke="#fdf0e7" stroke-width="1.4" textLength="28.1" lengthAdjust="spacingAndGlyphs">П</text>
<text x="532.4" y="463" font-size="45.5" font-weight="bold" fill="#fdf0e7" stroke="#fdf0e7" stroke-width="1.4" textLength="26.1" lengthAdjust="spacingAndGlyphs">Р</text>
<text x="561.5" y="463" font-size="45.5" font-weight="bold" fill="#fdf0e7" stroke="#fdf0e7" stroke-width="1.4" textLength="34.7" lengthAdjust="spacingAndGlyphs">О</text>
<text x="599.6" y="463" font-size="45.5" font-weight="bold" fill="#fdf0e7" stroke="#fdf0e7" stroke-width="1.4" textLength="33.9" lengthAdjust="spacingAndGlyphs">М</text>
</g>
<line x1="13" y1="4.5" x2="62" y2="4.5" stroke="#3a3a3a" stroke-width="1"/>
<line x1="13" y1="195.5" x2="32" y2="195.5" stroke="#3a3a3a" stroke-width="1"/>
<line x1="21.6" y1="12" x2="21.6" y2="188" stroke="#5a5a5a" stroke-width="1.4"/>
<polygon points="21.6,5 17.6,15.5 25.6,15.5" fill="#111"/>
<polygon points="21.6,195 17.6,184.5 25.6,184.5" fill="#111"/>
<text x="9.7" y="105.6" font-size="13.4" font-weight="bold" fill="#111" textLength="9.1" lengthAdjust="spacingAndGlyphs">A</text>
<rect x="64.6" y="4.8" width="9" height="189.4" fill="#fff" stroke="#111" stroke-width="1.2"/>
<rect x="64" y="4" width="10.2" height="2.6" fill="#111"/>
<rect x="64" y="193" width="10.2" height="1.9" fill="#111"/>
<rect x="116.8" y="4.8" width="9.5" height="189.4" fill="#fff" stroke="#111" stroke-width="1.2"/>
<rect x="116.2" y="4" width="10.7" height="2.6" fill="#111"/>
<rect x="116.2" y="193" width="10.7" height="1.9" fill="#111"/>
<rect x="65.2" y="32.3" width="60.6" height="2.5" fill="#fff"/>
<rect x="64" y="31.7" width="63" height="1.2" fill="#2a2a2a"/>
<rect x="64" y="34.2" width="63" height="1.3" fill="#4a4a4a"/>
<rect x="65.2" y="58.7" width="60.6" height="3.3" fill="#fff"/>
<rect x="64" y="58.1" width="63" height="1.2" fill="#2a2a2a"/>
<rect x="64" y="61.4" width="63" height="1.3" fill="#4a4a4a"/>
<rect x="65.2" y="85.7" width="60.6" height="3" fill="#fff"/>
<rect x="64" y="85.1" width="63" height="1.2" fill="#2a2a2a"/>
<rect x="64" y="88.1" width="63" height="1.3" fill="#4a4a4a"/>
<rect x="65.2" y="112.6" width="60.6" height="2.9" fill="#fff"/>
<rect x="64" y="112" width="63" height="1.2" fill="#2a2a2a"/>
<rect x="64" y="114.9" width="63" height="1.3" fill="#4a4a4a"/>
<rect x="65.2" y="139.5" width="60.6" height="2.9" fill="#fff"/>
<rect x="64" y="138.9" width="63" height="1.2" fill="#2a2a2a"/>
<rect x="64" y="141.8" width="63" height="1.3" fill="#4a4a4a"/>
<rect x="65.2" y="166.4" width="60.6" height="2.5" fill="#fff"/>
<rect x="64" y="165.8" width="63" height="1.2" fill="#2a2a2a"/>
<rect x="64" y="168.3" width="63" height="1.3" fill="#4a4a4a"/>
<line x1="200.5" y1="76.5" x2="200.5" y2="123" stroke="#444" stroke-width="1"/>
<line x1="261.6" y1="76.5" x2="261.6" y2="123" stroke="#444" stroke-width="1"/>
<line x1="208" y1="83.5" x2="254" y2="83.5" stroke="#333" stroke-width="1.2"/>
<polygon points="200.8,83.5 210.5,79 210.5,88" fill="#111"/>
<polygon points="261.3,83.5 251.6,79 251.6,88" fill="#111"/>
<text x="227.4" y="81" font-size="13.2" font-weight="bold" fill="#111" textLength="9.2" lengthAdjust="spacingAndGlyphs">B</text>
<rect x="200.6" y="127.5" width="61.4" height="68" fill="#fff" stroke="none"/>
<rect x="200" y="126.6" width="8.8" height="1.9" fill="#111"/>
<rect x="252.2" y="126.6" width="10.4" height="1.9" fill="#111"/>
<rect x="200.2" y="128.2" width="62" height="1" fill="#111"/>
<rect x="200.2" y="130.9" width="62" height="1" fill="#333"/>
<rect x="200.2" y="133.6" width="62" height="1" fill="#666"/>
<rect x="200.2" y="136.6" width="62" height="1" fill="#666"/>
<rect x="200.2" y="139.4" width="62" height="1" fill="#333"/>
<rect x="200.2" y="142" width="62" height="1" fill="#111"/>
<rect x="200" y="126.6" width="1.1" height="69.6" fill="#111"/>
<rect x="261.6" y="126.6" width="1.1" height="69.6" fill="#111"/>
<rect x="208.2" y="143" width="1.3" height="53" fill="#1a1a1a"/>
<rect x="252.3" y="143" width="1.1" height="53" fill="#222"/>
<rect x="200" y="166.2" width="62.6" height="3.8" fill="#fff"/>
<rect x="200" y="166.2" width="62.6" height="1" fill="#222"/>
<rect x="200" y="169" width="62.6" height="1" fill="#333"/>
<rect x="200" y="193.2" width="9.4" height="2.9" fill="#111"/>
<rect x="252.3" y="193.2" width="10.4" height="2.9" fill="#111"/>
<line x1="265" y1="127.5" x2="312" y2="127.5" stroke="#444" stroke-width="1"/>
<line x1="265" y1="195.5" x2="312" y2="195.5" stroke="#444" stroke-width="1"/>
<line x1="306.8" y1="135" x2="306.8" y2="188" stroke="#555" stroke-width="1.3"/>
<polygon points="306.8,128.2 302.9,137.6 310.7,137.6" fill="#111"/>
<polygon points="306.8,194.8 302.9,185.4 310.7,185.4" fill="#111"/>
<text x="309.3" y="164.2" font-size="12.8" font-weight="bold" fill="#111" textLength="9.4" lengthAdjust="spacingAndGlyphs">C</text>
<rect x="7" y="212" width="308" height="40.6" fill="#eaeaea"/>
<text x="35.2" y="237.8" font-size="13.2" font-weight="bold" fill="#111" stroke="#111" stroke-width="0.3" textLength="46.8" lengthAdjust="spacingAndGlyphs">Артикул</text>
<text x="121.2" y="237.8" font-size="13.2" font-weight="bold" fill="#111" stroke="#111" stroke-width="0.3" textLength="29.8" lengthAdjust="spacingAndGlyphs">A, см</text>
<text x="203.1" y="237.8" font-size="13.2" font-weight="bold" fill="#111" stroke="#111" stroke-width="0.3" textLength="30" lengthAdjust="spacingAndGlyphs">B, см</text>
<text x="272.2" y="237.8" font-size="13.2" font-weight="bold" fill="#111" stroke="#111" stroke-width="0.3" textLength="29.6" lengthAdjust="spacingAndGlyphs">C, см</text>
<text x="26" y="268.9" font-size="14.4" fill="#1e1e1e" stroke="#1e1e1e" stroke-width="0.25" textLength="64.6" lengthAdjust="spacingAndGlyphs">ST9734-026</text>
<text x="135.8" y="268.9" font-size="14.4" fill="#1e1e1e" stroke="#1e1e1e" stroke-width="0.25" text-anchor="middle" textLength="20.4" lengthAdjust="spacingAndGlyphs">260</text>
<text x="218" y="268.9" font-size="14.4" fill="#1e1e1e" stroke="#1e1e1e" stroke-width="0.25" text-anchor="middle" textLength="13.4" lengthAdjust="spacingAndGlyphs">46</text>
<text x="286.8" y="268.9" font-size="14.4" fill="#1e1e1e" stroke="#1e1e1e" stroke-width="0.25" text-anchor="middle" textLength="13.8" lengthAdjust="spacingAndGlyphs">75</text>
<text x="26" y="290.5" font-size="14.4" fill="#1e1e1e" stroke="#1e1e1e" stroke-width="0.25" textLength="64.6" lengthAdjust="spacingAndGlyphs">ST9734-032</text>
<text x="135.8" y="290.5" font-size="14.4" fill="#1e1e1e" stroke="#1e1e1e" stroke-width="0.25" text-anchor="middle" textLength="20.4" lengthAdjust="spacingAndGlyphs">320</text>
<text x="218" y="290.5" font-size="14.4" fill="#1e1e1e" stroke="#1e1e1e" stroke-width="0.25" text-anchor="middle" textLength="13.4" lengthAdjust="spacingAndGlyphs">47</text>
<text x="286.8" y="290.5" font-size="14.4" fill="#1e1e1e" stroke="#1e1e1e" stroke-width="0.25" text-anchor="middle" textLength="13.8" lengthAdjust="spacingAndGlyphs">78</text>
<text x="26" y="312.2" font-size="14.4" fill="#1e1e1e" stroke="#1e1e1e" stroke-width="0.25" textLength="64.6" lengthAdjust="spacingAndGlyphs">ST9734-038</text>
<text x="135.8" y="312.2" font-size="14.4" fill="#1e1e1e" stroke="#1e1e1e" stroke-width="0.25" text-anchor="middle" textLength="20.4" lengthAdjust="spacingAndGlyphs">380</text>
<text x="218" y="312.2" font-size="14.4" fill="#1e1e1e" stroke="#1e1e1e" stroke-width="0.25" text-anchor="middle" textLength="13.4" lengthAdjust="spacingAndGlyphs">48</text>
<text x="286.8" y="312.2" font-size="14.4" fill="#1e1e1e" stroke="#1e1e1e" stroke-width="0.25" text-anchor="middle" textLength="13.8" lengthAdjust="spacingAndGlyphs">85</text>
<text x="26" y="333.8" font-size="14.4" fill="#1e1e1e" stroke="#1e1e1e" stroke-width="0.25" textLength="64.6" lengthAdjust="spacingAndGlyphs">ST9734-044</text>
<text x="135.8" y="333.8" font-size="14.4" fill="#1e1e1e" stroke="#1e1e1e" stroke-width="0.25" text-anchor="middle" textLength="20.4" lengthAdjust="spacingAndGlyphs">440</text>
<text x="218" y="333.8" font-size="14.4" fill="#1e1e1e" stroke="#1e1e1e" stroke-width="0.25" text-anchor="middle" textLength="23" lengthAdjust="spacingAndGlyphs">48,4</text>
<text x="286.8" y="333.8" font-size="14.4" fill="#1e1e1e" stroke="#1e1e1e" stroke-width="0.25" text-anchor="middle" textLength="13.8" lengthAdjust="spacingAndGlyphs">91</text>
<line x1="7" y1="275.4" x2="316" y2="275.4" stroke="#111" stroke-width="1.3" stroke-dasharray="2.1 2.215"/>
<line x1="7" y1="296.6" x2="316" y2="296.6" stroke="#111" stroke-width="1.3" stroke-dasharray="2.1 2.215"/>
<line x1="7" y1="318.4" x2="316" y2="318.4" stroke="#111" stroke-width="1.3" stroke-dasharray="2.1 2.215"/>
</svg></body></html>
